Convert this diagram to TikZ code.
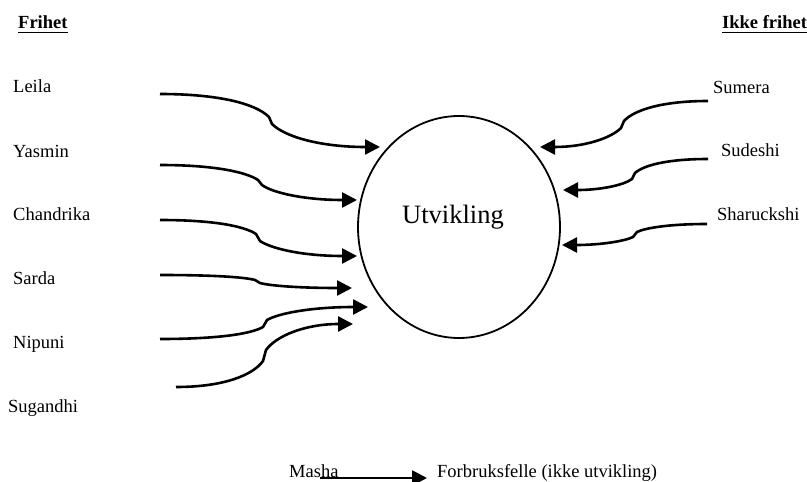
\documentclass[tikz,border=0pt]{standalone}
\usepackage{fontspec}
\setmainfont{Liberation Serif}
\usetikzlibrary{arrows.meta,shapes.geometric}

\begin{document}
\begin{tikzpicture}[x=1pt,y=-1pt,
    lbl/.style={inner sep=0pt,anchor=base west,font=\fontsize{18.5}{22}\selectfont},
    head/.style={lbl,font=\fontsize{18.5}{22}\selectfont\bfseries},
    flow/.style={line width=2.6pt,-{Triangle[length=15pt,width=15pt]}},
    uline/.style={line width=1.3pt}]
\useasboundingbox (0,0) rectangle (807,482);

% column headings
\node[head] (fri) at (18,28) {Frihet};
\node[head] (ikke) at (722,28) {Ikke frihet};
\draw[uline] ([yshift=-4pt]fri.south west) -- ([yshift=-4pt]fri.south east);
\draw[uline] ([yshift=-4pt]ikke.south west) -- ([yshift=-4pt]ikke.south east);

% central goal
\node[draw,ellipse,line width=1.8pt,minimum width=202pt,minimum height=222pt,inner sep=0pt] (utv) at (459,227) {};
\node[inner sep=0pt,anchor=base west,font=\fontsize{26.5}{30}\selectfont] (utvtxt) at (402,223) {Utvikling};

% names
\node[lbl] (leila) at (13,92) {Leila};
\node[lbl] (yasmin) at (13,157) {Yasmin};
\node[lbl] (chandrika) at (13,220) {Chandrika};
\node[lbl] (sarda) at (13,284) {Sarda};
\node[lbl] (nipuni) at (13,348) {Nipuni};
\node[lbl] (sugandhi) at (8,412) {Sugandhi};
\node[lbl] (sumera) at (713,93) {Sumera};
\node[lbl] (sudeshi) at (721,156) {Sudeshi};
\node[lbl] (sharuckshi) at (717,220) {Sharuckshi};
\node[lbl] (masha) at (289,477) {Masha};
\node[lbl] (felle) at (437,477) {Forbruksfelle (ikke utvikling)};

% arrow end points and bends
\coordinate (leilaS) at (160,94);  \coordinate (leilaA) at (269,117); \coordinate (leilaB) at (272,124); \coordinate (leilaT) at (380,147);
\coordinate (yasS) at (160,165);   \coordinate (yasA) at (258,180);   \coordinate (yasB) at (262,185);   \coordinate (yasT) at (357,200);
\coordinate (chaS) at (160,220);   \coordinate (chaA) at (256,234);   \coordinate (chaB) at (260,241);   \coordinate (chaT) at (357,256);
\coordinate (sarS) at (160,275);   \coordinate (sarA) at (255,280);   \coordinate (sarB) at (260,283);   \coordinate (sarT) at (352,288);
\coordinate (nipS) at (160,339);   \coordinate (nipA) at (263,327);   \coordinate (nipB) at (267,320);   \coordinate (nipT) at (368,307);
\coordinate (sugS) at (176,387);   \coordinate (sugA) at (263,361);   \coordinate (sugB) at (266,350);   \coordinate (sugT) at (353,324);
\coordinate (sumS) at (708,101);   \coordinate (sumA) at (624,121);   \coordinate (sumB) at (621,128);   \coordinate (sumT) at (540,147);
\coordinate (sudS) at (708,159);   \coordinate (sudA) at (635,173);   \coordinate (sudB) at (632,179);   \coordinate (sudT) at (563,190);
\coordinate (shaS) at (707,224);   \coordinate (shaA) at (637,232);   \coordinate (shaB) at (633,237);   \coordinate (shaT) at (562,245);
\coordinate (mashaS) at (320,478); \coordinate (mashaT) at (427,478);

% curved arrows, left side
\draw[flow] (leilaS) .. controls +(60,0) and +(-13,-13) .. (leilaA) -- (leilaB) .. controls +(13,13) and +(-59,0) .. (leilaT);
\draw[flow] (yasS) .. controls +(54,0) and +(-12,-8) .. (yasA) -- (yasB) .. controls +(11,8) and +(-52,0) .. (yasT);
\draw[flow] (chaS) .. controls +(53,0) and +(-12,-8) .. (chaA) -- (chaB) .. controls +(12,8) and +(-53,0) .. (chaT);
\draw[flow] (sarS) .. controls +(52,0) and +(-11,-3) .. (sarA) -- (sarB) .. controls +(11,3) and +(-50,0) .. (sarT);
\draw[flow] (nipS) .. controls +(57,0) and +(-12,7) .. (nipA) -- (nipB) .. controls +(12,-7) and +(-55,0) .. (nipT);
\draw[flow] (sugS) .. controls +(48,0) and +(-10,14) .. (sugA) -- (sugB) .. controls +(10,-14) and +(-48,0) .. (sugT);

% curved arrows, right side
\draw[flow] (sumS) .. controls +(-46,0) and +(10,-11) .. (sumA) -- (sumB) .. controls +(-10,10) and +(45,0) .. (sumT);
\draw[flow] (sudS) .. controls +(-40,0) and +(9,-8) .. (sudA) -- (sudB) .. controls +(-8,6) and +(38,0) .. (sudT);
\draw[flow] (shaS) .. controls +(-38,0) and +(8,-4) .. (shaA) -- (shaB) .. controls +(-8,4) and +(39,0) .. (shaT);

% consumption trap
\draw[flow] (mashaS) -- (mashaT);
\end{tikzpicture}
\end{document}
